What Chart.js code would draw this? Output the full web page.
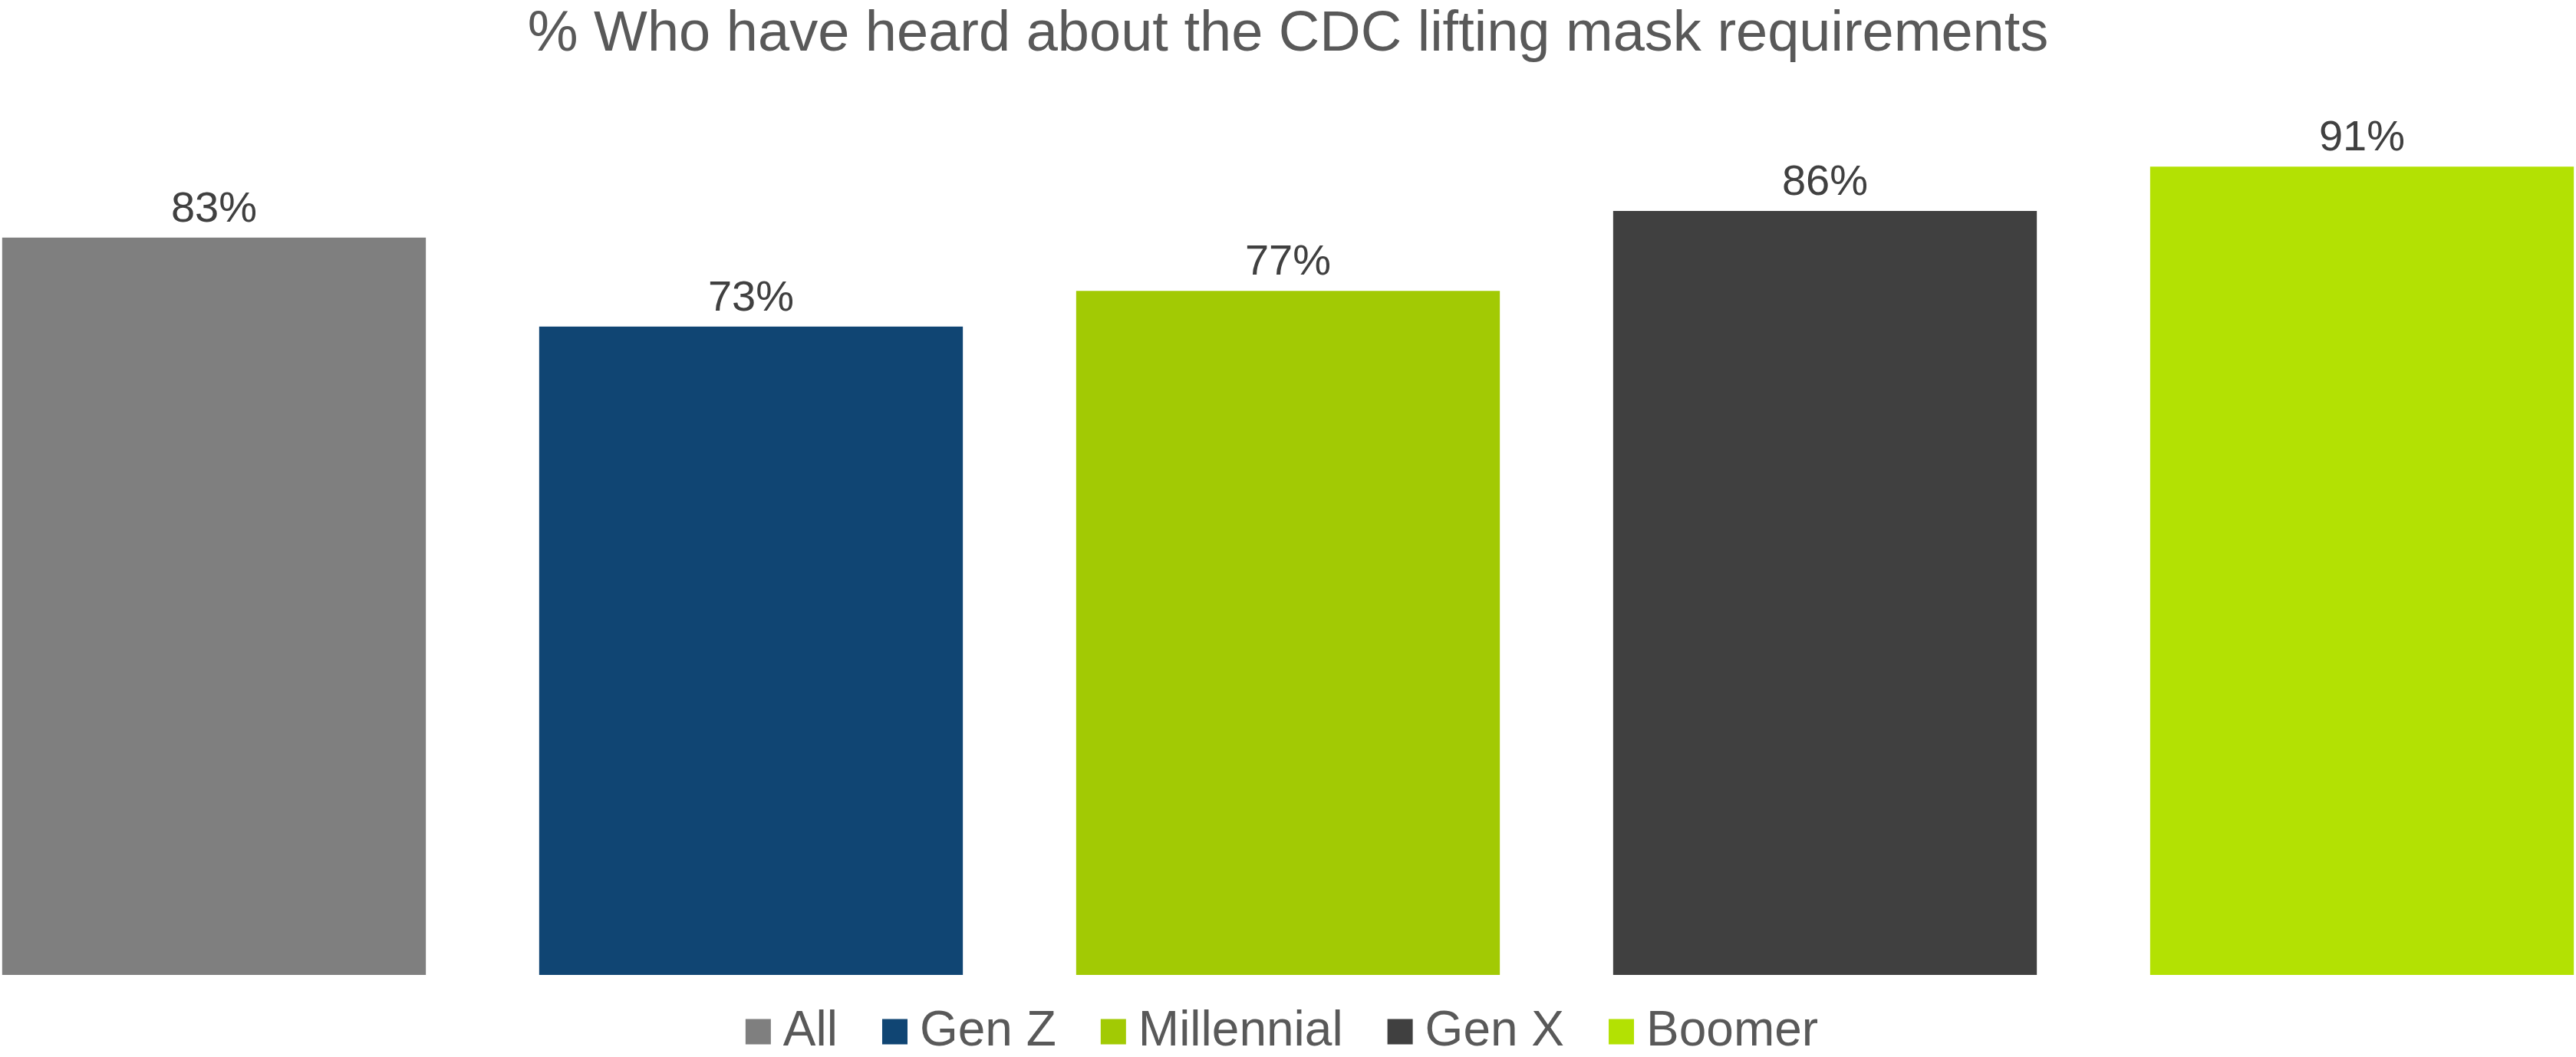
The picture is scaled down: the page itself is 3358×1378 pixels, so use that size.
<!DOCTYPE html>
<html>
<head>
<meta charset="utf-8">
<script src="https://cdn.jsdelivr.net/npm/chart.js@4"></script>
<style>
  html, body { margin: 0; padding: 0; background: #ffffff; }
  .contenedor { width: 3358px; height: 1378px; }
</style>
</head>
<body>
<div class="contenedor"><canvas class="grafica"></canvas></div>
<script>
const titulo = '% Who have heard about the CDC lifting mask requirements';
const grupos = ['All', 'Gen Z', 'Millennial', 'Gen X', 'Boomer'];
const porcentajes = [83, 73, 77, 86, 91];
const colores = ['#7f7f7f', '#104573', '#a2ca04', '#404040', '#b3e103'];

// one dataset per group so each one shows up in the legend
const datasets = grupos.map((g, i) => ({
    label: g,
    data: [porcentajes[i]],
    backgroundColor: colores[i],
    borderWidth: 0
}));

// value on top of every bar
const etiquetasValor = {
    id: 'etiquetasValor',
    afterDatasetsDraw(chart) {
        const ctx = chart.ctx;
        ctx.save();
        ctx.font = '56px "Liberation Sans", Arial, sans-serif';
        ctx.fillStyle = '#404040';
        ctx.textAlign = 'center';
        ctx.textBaseline = 'alphabetic';
        chart.data.datasets.forEach((ds, i) => {
            chart.getDatasetMeta(i).data.forEach((bar, j) => {
                ctx.fillText(ds.data[j] + '%', bar.x, bar.y - 21);
            });
        });
        ctx.restore();
    }
};

const config = {
    type: 'bar',
    data: { labels: [''], datasets: datasets },
    plugins: [etiquetasValor],
    options: {
        responsive: true,
        maintainAspectRatio: false,
        animation: false,
        layout: { padding: { top: 0, left: 0, right: 0, bottom: -9 } },
        datasets: {
            bar: { categoryPercentage: 1.0423, barPercentage: 0.789 }
        },
        scales: {
            x: { display: false },
            y: { display: false, min: 0, max: 100 }
        },
        plugins: {
            title: {
                display: true,
                text: titulo,
                color: '#595959',
                font: { family: '"Liberation Sans", Arial, sans-serif', size: 74, weight: 'normal', lineHeight: 1 },
                padding: { top: 9, bottom: 30 }
            },
            legend: {
                position: 'bottom',
                labels: {
                    usePointStyle: true,
                    pointStyle: 'rect',
                    boxWidth: 1,
                    boxHeight: 33,
                    padding: 42,
                    color: '#595959',
                    font: { family: '"Liberation Sans", Arial, sans-serif', size: 64 },
                    // a bit more room between the entries than the padding gives
                    generateLabels(chart) {
                        const items = Chart.defaults.plugins.legend.labels.generateLabels(chart);
                        return items.map((item, i) => ({
                            ...item,
                            text: i < items.length - 1 ? item.text + '\u2002' : item.text
                        }));
                    }
                }
            },
            tooltip: { enabled: false }
        }
    }
};

const ctx = document.querySelector('.grafica');
const grafica = new Chart(ctx, config);
</script>
</body>
</html>
